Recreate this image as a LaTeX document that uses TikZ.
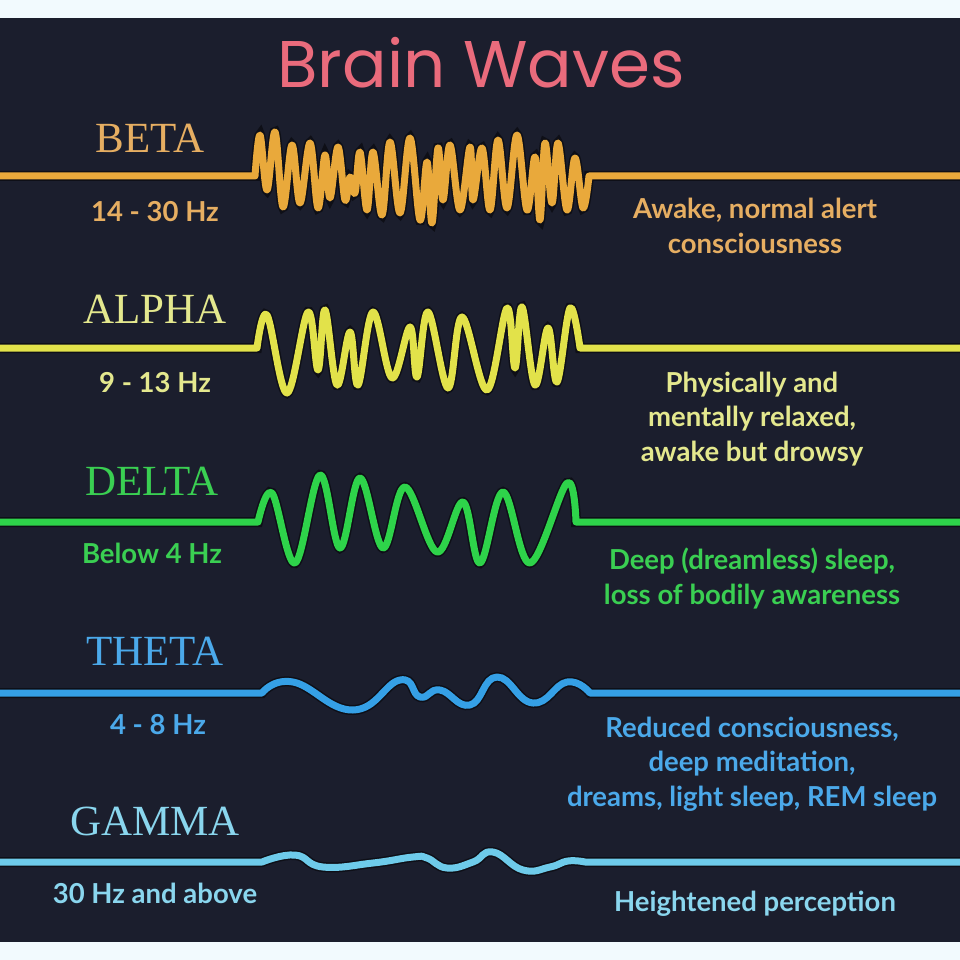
\documentclass[tikz,border=0pt]{standalone}
\usepackage{fontspec}
\setmainfont{Lato}
\newfontfamily\titlefont{Poppins}
\newfontfamily\bandfont{Liberation Serif}
\usetikzlibrary{positioning}
\definecolor{margin}{HTML}{F2FAFE}
\definecolor{board}{HTML}{1B1E2D}
\definecolor{shade}{HTML}{0E0F17}
\definecolor{titlepink}{HTML}{EA6B7C}
\definecolor{betac}{HTML}{E9A93B}
\definecolor{betat}{HTML}{E6AE62}
\definecolor{alphac}{HTML}{E2E24A}
\definecolor{alphat}{HTML}{E4E88E}
\definecolor{deltac}{HTML}{2ED34A}
\definecolor{deltat}{HTML}{3ACF52}
\definecolor{thetac}{HTML}{35A0E6}
\definecolor{thetat}{HTML}{4BA9EA}
\definecolor{gammac}{HTML}{6ECBEA}
\definecolor{gammat}{HTML}{8AD6EE}

\begin{document}
\begin{tikzpicture}[x=1pt, y=-1pt,
  wave/.style = {line width=7pt, line join=round, preaction={draw=shade, line width=10pt}},
  band/.style = {font=\bandfont\fontsize{43}{46}\selectfont, anchor=base, inner sep=0pt},
  rate/.style = {font=\bfseries\fontsize{27.5}{32}\selectfont, anchor=base, inner sep=0pt},
  note/.style = {font=\bfseries\fontsize{27.5}{34.5}\selectfont, anchor=base, inner sep=0pt, align=center}]
\useasboundingbox (0,0) rectangle (960,960);
\fill[margin] (0,0) rectangle (960,960);
\fill[board] (0,18) rectangle (960,942);
\node[anchor=base, inner sep=0pt, text=titlepink, font=\titlefont\fontsize{66}{72}\selectfont] (title) at (481,88) {Brain Waves};
% beta
\draw[wave, betac] (0,176) -- (255,176) -- plot[smooth, tension=0.6] coordinates {(255,176) (260,135) (267,190) (275,132) (283,207) (292,145) (300,203) (310,143) (318,208) (325,155) (330,198) (338,147) (345,200) (350,177) (355,193) (360,152) (367,210) (373,152) (382,215) (390,142) (400,213) (410,138) (420,220) (427,162) (432,223) (438,148) (443,200) (450,145) (460,210) (470,147) (473,200) (482,148) (490,210) (498,140) (507,208) (517,135) (527,210) (535,157) (540,220) (545,143) (552,203) (558,143) (567,210) (575,158) (583,208) (589,176)} -- (960,176);
\node[band, text=betat] (betaname) at (150,153) {BETA};
\node[rate, text=betat] (betarate) at (155,221) {14 - 30 Hz};
\node[note, text=betat] (betanote) at (755,253) {Awake, normal alert\\consciousness};
% alpha
\draw[wave, alphac] (0,348) -- (257,348) -- plot[smooth, tension=0.6] coordinates {(257,348) (267,315) (287,393) (308,312) (318,370) (325,310) (337,385) (350,332) (358,385) (373,312) (392,378) (410,327) (417,377) (428,312) (448,388) (462,317) (487,390) (507,308) (515,368) (522,307) (535,385) (548,328) (557,382) (570,308) (580,348)} -- (960,348);
\node[band, text=alphat] (alphaname) at (155,323) {ALPHA};
\node[rate, text=alphat] (alpharate) at (155,392) {9 - 13 Hz};
\node[note, text=alphat] (alphanote) at (752,461) {Physically and\\mentally relaxed,\\awake but drowsy};
% delta
\draw[wave, deltac] (0,522) -- (258,522) -- plot[smooth, tension=0.6] coordinates {(258,522) (272,493) (295,563) (320,475) (340,548) (360,478) (383,548) (405,487) (437,552) (463,502) (480,563) (503,492) (530,563) (567,483) (576,522)} -- (960,522);
\node[band, text=deltat] (deltaname) at (152,495) {DELTA};
\node[rate, text=deltat] (deltarate) at (152,563) {Below 4 Hz};
\node[note, text=deltat] (deltanote) at (752,604) {Deep (dreamless) sleep,\\loss of bodily awareness};
% theta
\draw[wave, thetac] (0,693) -- (262,693) -- plot[smooth, tension=0.8] coordinates {(262,693) (293,682) (353,710) (400,680) (420,697) (440,690) (470,705) (497,677) (533,703) (567,682) (590,693)} -- (960,693);
\node[band, text=thetat] (thetaname) at (155,665) {THETA};
\node[rate, text=thetat] (thetarate) at (158,734) {4 - 8 Hz};
\node[note, text=thetat] (thetanote) at (752,806) {Reduced consciousness,\\deep meditation,\\dreams, light sleep, REM sleep};
% gamma
\draw[wave, gammac] (0,862) -- (262,862) -- plot[smooth, tension=0.8] coordinates {(262,862) (295,855) (323,867) (373,863) (413,857) (427,858) (447,868) (473,862) (493,852) (523,870) (550,867) (568,861) (585,862)} -- (960,862);
\node[band, text=gammat] (gammaname) at (155,835) {GAMMA};
\node[rate, text=gammat] (gammarate) at (155,903) {30 Hz and above};
\node[note, text=gammat] (gammanote) at (755,911) {Heightened perception};
\end{tikzpicture}
\end{document}
